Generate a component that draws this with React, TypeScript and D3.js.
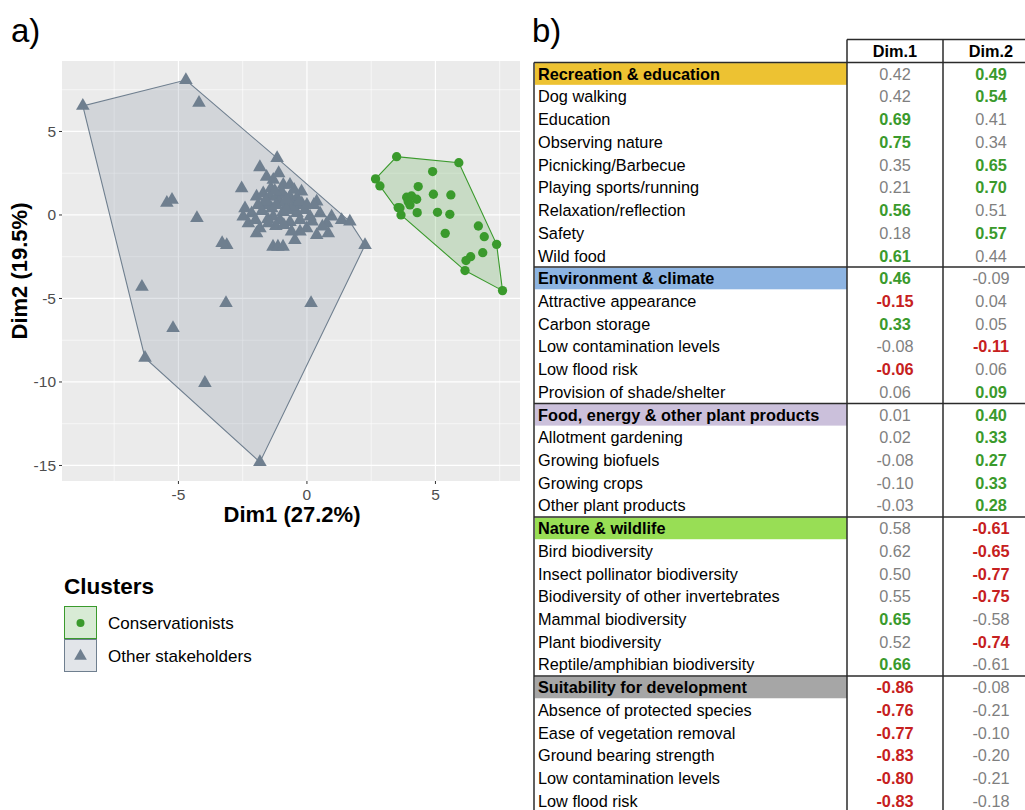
import React from "react";
import * as d3 from "d3";

// ---------- Panel a) data ----------
const othersX = [
  -8.72, -4.71, -4.2, -5.45, -5.25, -4.28, -6.42, -3.15, -5.21, -3.97, 0.16, -6.3, -1.83,
  -1.16, -1.83, -2.54, -1.57, -1.31, -0.92, -0.66, -0.21, 0.38, -1.96, -1.7, -1.44, -1.18,
  -0.92, -0.66, -0.4, -2.41, -2.15, -2.48, -2.28, -1.83, -1.96, -1.31, -1.05, -1.63, -1.37,
  -0.53, -0.08, 0.12, 0.51, 0.96, 1.35, 1.67, 0.77, 0.38, 0.83, -0.01, -0.27, -0.47, -1.32,
  -1.13, -0.93, 2.26, -3.12, -3.3, -0.82, -0.43, -1.75, -0.93, -0.66, -0.27, -1.21, -1.52,
  0.27, -0.39, -1.1, -0.55, -1.6, -0.2,
  -1.4, -1.0, -0.5, -1.6, -1.2, -0.8, -0.3, 0.0, -1.9, -1.5, -0.9, -0.6, 0.6, 0.2, -2.0,
  -1.1, -0.8, -1.25,
];
const othersY = [
  6.53, 8.08, 6.71, 0.72, 0.9, -0.18, -4.31, -5.27, -6.77, -10.06, -5.27, -8.56, -14.8,
  3.4, 2.86, 1.6, 2.29, 2.1, 1.8, 1.8, 1.4, 0.8, 1.1, 1.3, 1.1, 1.1,
  1.2, 1.1, 1.0, 0.4, 0.1, -0.1, -0.5, -0.8, -1.1, -0.1, -0.3, 0.6, 0.4,
  0.3, 0.3, -0.1, 0.1, -0.1, -0.3, -0.4, -0.5, -1.2, -1.1, -0.8, -1.0, -1.5, -1.9,
  -1.9, -1.9, -1.8, -1.8, -1.68, 0.72, 0.6, 0.24, 0.18, -0.42, -0.3, -0.66, -0.24,
  0.6, 0.12, 0.75, 0.5, 0.9, 0.7,
  1.6, 1.4, 1.5, 0.8, 0.6, 0.3, 0.8, 0.6, 0.6, -0.5, -0.6, -1.0, -0.7, -0.4, -0.3,
  2.5, 0.95, 1.45,
];
const consX = [
  3.49, 5.91, 2.67, 2.84, 4.89, 4.33, 4.92, 5.6, 3.88, 4.07, 4.27, 3.94, 4.01, 3.55,
  3.66, 4.29, 5.08, 5.56, 6.67, 6.9, 5.38, 7.38, 6.84, 6.37, 6.19, 6.15, 7.61, 3.62,
];
const consY = [
  3.49, 3.13, 2.16, 1.74, 2.6, 1.7, 1.24, 1.2, 1.06, 1.14, 0.94, 0.8, 0.6, 0.44,
  0.0, 0.14, 0.16, 0.04, -0.66, -1.3, -1.1, -1.76, -2.26, -2.5, -2.73, -3.33, -4.53, 0.42,
];
const xTicks = [-5, 0, 5];
const yTicks = [5, 0, -5, -10, -15];
const xMinor = [-7.5, -2.5, 2.5, 7.5];
const yMinor = [7.5, 2.5, -2.5, -7.5, -12.5];
const clusterNames = ["Conservationists", "Other stakeholders"];

// ---------- Panel b) data ----------
const rowLabels = [
  "Recreation & education", "Dog walking", "Education", "Observing nature", "Picnicking/Barbecue",
  "Playing sports/running", "Relaxation/reflection", "Safety", "Wild food",
  "Environment & climate", "Attractive appearance", "Carbon storage", "Low contamination levels",
  "Low flood risk", "Provision of shade/shelter",
  "Food, energy & other plant products", "Allotment gardening", "Growing biofuels", "Growing crops",
  "Other plant products",
  "Nature & wildlife", "Bird biodiversity", "Insect pollinator biodiversity",
  "Biodiversity of other invertebrates", "Mammal biodiversity", "Plant biodiversity",
  "Reptile/amphibian biodiversity",
  "Suitability for development", "Absence of protected species", "Ease of vegetation removal",
  "Ground bearing strength", "Low contamination levels", "Low flood risk",
];
const groupRows = [0, 9, 15, 20, 27];
const groupFills = ["#EDC232", "#8DB4E2", "#CBC0DB", "#98DE55", "#A6A6A6"];
const dim1 = [
  0.42, 0.42, 0.69, 0.75, 0.35, 0.21, 0.56, 0.18, 0.61,
  0.46, -0.15, 0.33, -0.08, -0.06, 0.06,
  0.01, 0.02, -0.08, -0.1, -0.03,
  0.58, 0.62, 0.5, 0.55, 0.65, 0.52, 0.66,
  -0.86, -0.76, -0.77, -0.83, -0.8, -0.83,
];
const dim2 = [
  0.49, 0.54, 0.41, 0.34, 0.65, 0.7, 0.51, 0.57, 0.44,
  -0.09, 0.04, 0.05, -0.11, 0.06, 0.09,
  0.4, 0.33, 0.27, 0.33, 0.28,
  -0.61, -0.65, -0.77, -0.75, -0.58, -0.74, -0.61,
  -0.08, -0.21, -0.1, -0.2, -0.21, -0.18,
];
// significance flags: 1 = significant (coloured bold), 0 = not
const sig1 = [
  0, 0, 1, 1, 0, 0, 1, 0, 1,
  1, 1, 1, 0, 1, 0,
  0, 0, 0, 0, 0,
  0, 0, 0, 0, 1, 0, 1,
  1, 1, 1, 1, 1, 1,
];
const sig2 = [
  1, 1, 0, 0, 1, 1, 0, 1, 0,
  0, 0, 0, 1, 0, 1,
  1, 1, 1, 1, 1,
  1, 1, 1, 1, 0, 1, 0,
  0, 0, 0, 0, 0, 0,
];
const colHeaders = ["Dim.1", "Dim.2"];

const FONT = "Arial, 'Liberation Sans', Helvetica, sans-serif";
const GREEN = "#3A9A2C";
const SLATE = "#6F7F8F";

export default function App() {
  const x = d3.scaleLinear().domain([-9.53, 8.29]).range([62, 520]);
  const y = d3.scaleLinear().domain([-15.93, 9.22]).range([481, 61]);

  const others = othersX.map((v, i) => [x(v), y(othersY[i])] as [number, number]);
  const cons = consX.map((v, i) => [x(v), y(consY[i])] as [number, number]);
  const hullO = d3.polygonHull(others)!;
  const hullC = d3.polygonHull(cons)!;
  const line = (pts: [number, number][]) => "M" + pts.map((p) => p.join(",")).join("L") + "Z";

  const tri = d3.symbol(d3.symbolTriangle, 80)()!;
  const circ = d3.symbol(d3.symbolCircle, 68)()!;

  const fmt = (v: number) => (v < 0 ? "-" : "") + Math.abs(v).toFixed(2);

  // table geometry
  const rowTop = 62.6;
  const rowH = 22.72;
  const rows = d3.scaleBand<number>().domain(d3.range(rowLabels.length)).range([rowTop, rowTop + rowH * rowLabels.length]);
  const tLeft = 534, c1 = 847, c2 = 943, tRight = 1040;
  const cols = d3.scaleOrdinal<number, number>().domain([0, 1]).range([895, 991]);
  const tBottom = 820;

  return (
    <svg width={1025} height={810} style={{ position: "absolute", left: 0, top: 0, background: "#fff" }} fontFamily={FONT}>
      {/* a) */}
      <text x={11} y={42} fontSize={33}>a)</text>
      <rect x={62} y={61} width={458} height={420} fill="#EBEBEB" />
      {xMinor.map((t) => (
        <line key={"xm" + t} x1={x(t)} x2={x(t)} y1={61} y2={481} stroke="#fff" strokeWidth={0.6} />
      ))}
      {yMinor.map((t) => (
        <line key={"ym" + t} y1={y(t)} y2={y(t)} x1={62} x2={520} stroke="#fff" strokeWidth={0.6} />
      ))}
      {xTicks.map((t) => (
        <line key={"xM" + t} x1={x(t)} x2={x(t)} y1={61} y2={481} stroke="#fff" strokeWidth={1.2} />
      ))}
      {yTicks.map((t) => (
        <line key={"yM" + t} y1={y(t)} y2={y(t)} x1={62} x2={520} stroke="#fff" strokeWidth={1.2} />
      ))}
      <path d={line(hullO)} fill={SLATE} fillOpacity={0.2} stroke={SLATE} strokeWidth={1.1} />
      <path d={line(hullC)} fill={GREEN} fillOpacity={0.2} stroke={GREEN} strokeWidth={1.1} />
      {others.map((p, i) => (
        <path key={"o" + i} d={tri} transform={`translate(${p[0]},${p[1]})`} fill={SLATE} />
      ))}
      {cons.map((p, i) => (
        <path key={"c" + i} d={circ} transform={`translate(${p[0]},${p[1]})`} fill={GREEN} />
      ))}
      {/* axes */}
      {yTicks.map((t) => (
        <g key={"yt" + t}>
          <line x1={59} x2={62} y1={y(t)} y2={y(t)} stroke="#333" strokeWidth={1} />
          <text x={56} y={y(t) + 5.5} fontSize={15.5} fill="#4D4D4D" textAnchor="end">{t < 0 ? "-" + Math.abs(t) : t}</text>
        </g>
      ))}
      {xTicks.map((t) => (
        <g key={"xt" + t}>
          <line x1={x(t)} x2={x(t)} y1={481} y2={484} stroke="#333" strokeWidth={1} />
          <text x={x(t)} y={500} fontSize={15.5} fill="#4D4D4D" textAnchor="middle">{t < 0 ? "-" + Math.abs(t) : t}</text>
        </g>
      ))}
      <text x={292} y={522} fontSize={22} fontWeight="bold" textAnchor="middle">Dim1 (27.2%)</text>
      <text transform="translate(27,271) rotate(-90)" fontSize={22} fontWeight="bold" textAnchor="middle">Dim2 (19.5%)</text>

      {/* legend */}
      <text x={64} y={594} fontSize={22.5} fontWeight="bold">Clusters</text>
      {clusterNames.map((n, i) => (
        <g key={n} transform={`translate(64,${606 + i * 33})`}>
          <rect x={0.5} y={0.5} width={32} height={32} fill={i === 0 ? GREEN : SLATE} fillOpacity={0.2} stroke={i === 0 ? GREEN : SLATE} strokeWidth={1} />
          <path d={i === 0 ? d3.symbol(d3.symbolCircle, 50)()! : d3.symbol(d3.symbolTriangle, 70)()!} transform="translate(16.5,17)" fill={i === 0 ? GREEN : SLATE} />
          <text x={44} y={23} fontSize={17}>{n}</text>
        </g>
      ))}

      {/* b) */}
      <text x={532} y={42} fontSize={33}>b)</text>
      {groupRows.map((r, i) => (
        <rect key={"gf" + r} x={tLeft + 1} y={rows(r)! + 0.5} width={c1 - tLeft - 1} height={rowH - 1} fill={groupFills[i]} />
      ))}
      {rowLabels.map((lab, i) => {
        const g = groupRows.includes(i);
        const yy = rows(i)! + rowH / 2 + 5.8;
        return (
          <g key={"r" + i}>
            <text x={538} y={yy} fontSize={16.3} fontWeight={g ? "bold" : "normal"} fill="#000">{lab}</text>
            {[dim1[i], dim2[i]].map((v, j) => {
              const s = (j === 0 ? sig1 : sig2)[i];
              const col = s ? (v < 0 ? "#C62020" : GREEN) : "#7F7F7F";
              return (
                <text key={j} x={cols(j)} y={yy} fontSize={16.3} textAnchor="middle" fontWeight={s ? "bold" : "normal"} fill={col}>
                  {fmt(v)}
                </text>
              );
            })}
          </g>
        );
      })}
      {/* header */}
      {colHeaders.map((h, j) => (
        <text key={h} x={cols(j)} y={57} fontSize={16.3} fontWeight="bold" textAnchor="middle">{h}</text>
      ))}
      <g stroke="#2b2b2b" strokeWidth={1.5} fill="none">
        <line x1={c1} x2={tRight} y1={39.5} y2={39.5} />
        <line x1={c1} x2={c1} y1={39.5} y2={tBottom} />
        <line x1={c2} x2={c2} y1={39.5} y2={tBottom} />
        <line x1={tLeft} x2={tLeft} y1={rowTop} y2={tBottom} />
        <line x1={tLeft} x2={tRight} y1={rowTop} y2={rowTop} />
        {groupRows.slice(1).map((r) => (
          <line key={"gl" + r} x1={tLeft} x2={tRight} y1={rows(r)!} y2={rows(r)!} />
        ))}
      </g>
    </svg>
  );
}
